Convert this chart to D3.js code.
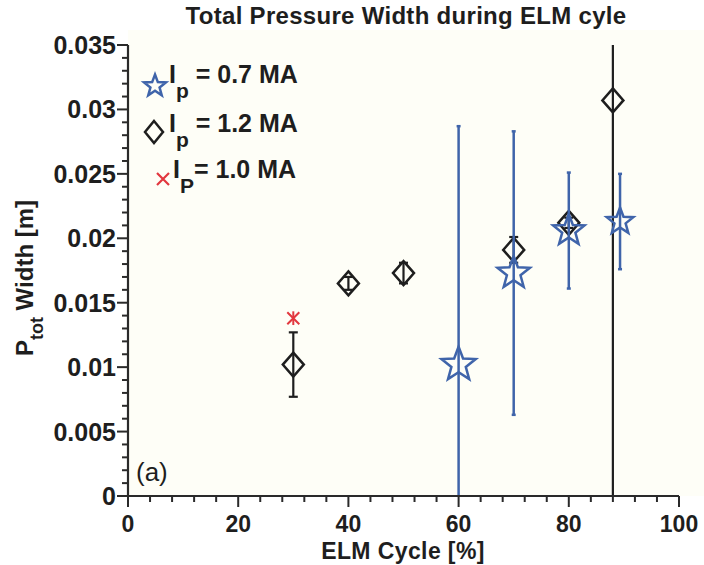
<!DOCTYPE html>
<html>
<head>
<meta charset="utf-8">
<script src="https://cdn.jsdelivr.net/npm/d3@7"></script>
<style>
  html, body { margin: 0; padding: 0; background: #ffffff; }
  svg { display: block; }
  text { font-family: "Liberation Sans", Arial, Helvetica, sans-serif; fill: #1e1e1e; }
</style>
</head>
<body>
<svg id="chart" width="704" height="565"></svg>
<script>
// ---- data ----
const xTicks = [0, 20, 40, 60, 80, 100];
const yTicks = [0, 0.005, 0.01, 0.015, 0.02, 0.025, 0.03, 0.035];
const yTickLabels = ["0", "0.005", "0.01", "0.015", "0.02", "0.025", "0.03", "0.035"];

// Ip = 0.7 MA (stars)
const starX = [60, 70, 80, 89.3];
const starY = [0.0102, 0.0173, 0.0206, 0.0213];
const starErr = [0.0185, 0.0110, 0.0045, 0.0037];

// Ip = 1.2 MA (diamonds)
const diamondX = [30, 40, 50, 70, 80, 88];
const diamondY = [0.0102, 0.0165, 0.0173, 0.0191, 0.0212, 0.0307];
const diamondErr = [0.0025, 0.0005, 0.0008, 0.0010, 0.0004, 0.0400];

// Ip = 1.0 MA (red x)
const crossX = [30];
const crossY = [0.0138];
const crossErr = [0.0003];

const legendLabels = [
  { main: "I", sub: "p", rest: " = 0.7 MA" },
  { main: "I", sub: "p", rest: " = 1.2 MA" },
  { main: "I", sub: "P", rest: "= 1.0 MA" }
];

// ---- styles ----
const BLUE = "#3f64aa";
const BLACK = "#1e1e1e";
const RED = "#e2383f";
const starRadius = [18, 17, 16.5, 14];

const svg = d3.select("#chart");
const margin = { left: 128, right: 25, top: 45, bottom: 69 };
const W = 704, H = 565;
const x = d3.scaleLinear().domain([0, 100]).range([margin.left, W - margin.right]);
const y = d3.scaleLinear().domain([0, 0.035]).range([H - margin.bottom, margin.top]);

// background of plot area
svg.append("rect")
  .attr("x", x(0)).attr("y", 30)
  .attr("width", W - x(0)).attr("height", y(0) - 30)
  .attr("fill", "#fefef7");

svg.append("clipPath").attr("id", "clip")
  .append("rect")
  .attr("x", x(0)).attr("y", y(0.035))
  .attr("width", x(100) - x(0) + 20).attr("height", y(0) - y(0.035));

// star path generator
function starPath(r) {
  const inner = r * 0.42;
  const pts = [];
  for (let i = 0; i < 10; i++) {
    const a = -Math.PI / 2 + i * Math.PI / 5;
    const rr = i % 2 === 0 ? r : inner;
    pts.push([rr * Math.cos(a), rr * Math.sin(a)]);
  }
  return "M" + pts.map(p => p[0].toFixed(2) + "," + p[1].toFixed(2)).join("L") + "Z";
}
function diamondPath(w, h) {
  return `M0,${-h}L${w},0L0,${h}L${-w},0Z`;
}

const plot = svg.append("g").attr("clip-path", "url(#clip)");

// ---- diamonds (1.2 MA) ----
const dData = diamondX.map((v, i) => ({ x: v, y: diamondY[i], e: diamondErr[i] }));
const dg = plot.append("g");
dg.selectAll("line.err").data(dData).join("line")
  .attr("x1", d => x(d.x)).attr("x2", d => x(d.x))
  .attr("y1", d => y(d.y - d.e)).attr("y2", d => y(d.y + d.e))
  .attr("stroke", BLACK).attr("stroke-width", 2.2);
dg.selectAll("line.capT").data(dData).join("line")
  .attr("x1", d => x(d.x) - 4.5).attr("x2", d => x(d.x) + 4.5)
  .attr("y1", d => y(d.y + d.e)).attr("y2", d => y(d.y + d.e))
  .attr("stroke", BLACK).attr("stroke-width", 2.2);
dg.selectAll("line.capB").data(dData).join("line")
  .attr("x1", d => x(d.x) - 4.5).attr("x2", d => x(d.x) + 4.5)
  .attr("y1", d => y(d.y - d.e)).attr("y2", d => y(d.y - d.e))
  .attr("stroke", BLACK).attr("stroke-width", 2.2);
dg.selectAll("path").data(dData).join("path")
  .attr("transform", d => `translate(${x(d.x)},${y(d.y)})`)
  .attr("d", diamondPath(10.5, 12))
  .attr("fill", "none").attr("stroke", BLACK).attr("stroke-width", 2.5)
  .attr("stroke-linejoin", "miter");

// ---- stars (0.7 MA) ----
const sData = starX.map((v, i) => ({ x: v, y: starY[i], e: starErr[i], r: starRadius[i] }));
const sg = plot.append("g");
sg.selectAll("line.err").data(sData).join("line")
  .attr("x1", d => x(d.x)).attr("x2", d => x(d.x))
  .attr("y1", d => y(d.y - d.e)).attr("y2", d => y(d.y + d.e))
  .attr("stroke", BLUE).attr("stroke-width", 2.5);
sg.selectAll("line.capT").data(sData).join("line")
  .attr("x1", d => x(d.x) - 2).attr("x2", d => x(d.x) + 2)
  .attr("y1", d => y(d.y + d.e)).attr("y2", d => y(d.y + d.e))
  .attr("stroke", BLUE).attr("stroke-width", 2.5);
sg.selectAll("line.capB").data(sData).join("line")
  .attr("x1", d => x(d.x) - 2).attr("x2", d => x(d.x) + 2)
  .attr("y1", d => y(d.y - d.e)).attr("y2", d => y(d.y - d.e))
  .attr("stroke", BLUE).attr("stroke-width", 2.5);
sg.selectAll("path").data(sData).join("path")
  .attr("transform", d => `translate(${x(d.x)},${y(d.y)})`)
  .attr("d", d => starPath(d.r))
  .attr("fill", "none").attr("stroke", BLUE).attr("stroke-width", 2.5);

// ---- red cross (1.0 MA) ----
const cData = crossX.map((v, i) => ({ x: v, y: crossY[i], e: crossErr[i] }));
const cg = plot.append("g");
cg.selectAll("line.err").data(cData).join("line")
  .attr("x1", d => x(d.x)).attr("x2", d => x(d.x))
  .attr("y1", d => y(d.y - d.e) + 3).attr("y2", d => y(d.y + d.e) - 3)
  .attr("stroke", RED).attr("stroke-width", 2);
cg.selectAll("path").data(cData).join("path")
  .attr("transform", d => `translate(${x(d.x)},${y(d.y)})`)
  .attr("d", "M-6,-6L6,6M-6,6L6,-6")
  .attr("fill", "none").attr("stroke", RED).attr("stroke-width", 2);

// ---- axes ----
const axisColor = "#2a2a2a";
const gx = svg.append("g").attr("transform", `translate(0,${y(0)})`);
gx.append("line").attr("x1", x(0)).attr("x2", x(100)).attr("stroke", axisColor).attr("stroke-width", 2.2);
const xMinor = d3.range(0, 101, 4).filter(v => v % 20 !== 0);
gx.selectAll("line.minor").data(xMinor).join("line")
  .attr("x1", d => x(d)).attr("x2", d => x(d)).attr("y1", 0).attr("y2", 6)
  .attr("stroke", axisColor).attr("stroke-width", 2);
gx.selectAll("line.major").data(xTicks).join("line")
  .attr("x1", d => x(d)).attr("x2", d => x(d)).attr("y1", 0).attr("y2", 11)
  .attr("stroke", axisColor).attr("stroke-width", 2);
gx.selectAll("text").data(xTicks).join("text")
  .attr("x", d => x(d)).attr("y", 36)
  .attr("text-anchor", "middle")
  .attr("font-size", 23).attr("font-weight", "bold")
  .text(d => d);

const gy = svg.append("g").attr("transform", `translate(${x(0)},0)`);
gy.append("line").attr("y1", y(0)).attr("y2", y(0.035)).attr("stroke", axisColor).attr("stroke-width", 2.2);
const yMinor = d3.range(0, 36, 1).filter(v => v % 5 !== 0).map(v => v / 1000);
gy.selectAll("line.minor").data(yMinor).join("line")
  .attr("y1", d => y(d)).attr("y2", d => y(d)).attr("x1", 0).attr("x2", -6)
  .attr("stroke", axisColor).attr("stroke-width", 2);
gy.selectAll("line.major").data(yTicks).join("line")
  .attr("y1", d => y(d)).attr("y2", d => y(d)).attr("x1", 0).attr("x2", -11)
  .attr("stroke", axisColor).attr("stroke-width", 2);
gy.selectAll("text").data(yTicks).join("text")
  .attr("x", -12).attr("y", d => y(d) + 9)
  .attr("text-anchor", "end")
  .attr("font-size", 25).attr("font-weight", "bold")
  .text((d, i) => yTickLabels[i]);

// ---- title & axis labels ----
svg.append("text")
  .attr("x", 406).attr("y", 24)
  .attr("text-anchor", "middle")
  .attr("font-size", 24).attr("font-weight", "bold")
  .attr("letter-spacing", 0.3)
  .text("Total Pressure Width during ELM cyle");

svg.append("text")
  .attr("x", 403).attr("y", 559)
  .attr("text-anchor", "middle")
  .attr("font-size", 23).attr("font-weight", "bold")
  .attr("letter-spacing", 0.4)
  .text("ELM Cycle [%]");

const yl = svg.append("text")
  .attr("transform", "translate(33,278) rotate(-90)")
  .attr("text-anchor", "middle")
  .attr("font-size", 24).attr("font-weight", "bold");
yl.append("tspan").text("P");
yl.append("tspan").attr("dy", 10).attr("font-size", 18).text("tot");
yl.append("tspan").attr("dy", -10).text(" Width [m]");

svg.append("text")
  .attr("x", 136).attr("y", 481)
  .attr("font-size", 26).attr("font-weight", "normal")
  .attr("font-family", "'Open Sans', 'Liberation Sans', sans-serif")
  .text("(a)");

// ---- legend ----
const lg = svg.append("g");
const legY = [83, 132, 178];
const legX = [169, 169, 173];
lg.append("path").attr("transform", `translate(155,${legY[0] + 3})`)
  .attr("d", starPath(11.5)).attr("fill", "none").attr("stroke", BLUE).attr("stroke-width", 2.5);
lg.append("path").attr("transform", `translate(154,${legY[1]})`)
  .attr("d", diamondPath(9, 11)).attr("fill", "none").attr("stroke", BLACK).attr("stroke-width", 2.5);
lg.append("path").attr("transform", `translate(163,${legY[2] + 1})`)
  .attr("d", "M-6,-6L6,6M-6,6L6,-6").attr("fill", "none").attr("stroke", RED).attr("stroke-width", 2.2);
legendLabels.forEach((l, i) => {
  const t = lg.append("text").attr("x", legX[i]).attr("y", legY[i])
    .attr("font-size", 25).attr("font-weight", "bold");
  t.append("tspan").text(l.main);
  t.append("tspan").attr("dy", 15).attr("font-size", 21).text(l.sub);
  t.append("tspan").attr("dy", -15).text(l.rest);
});
</script>
</body>
</html>
